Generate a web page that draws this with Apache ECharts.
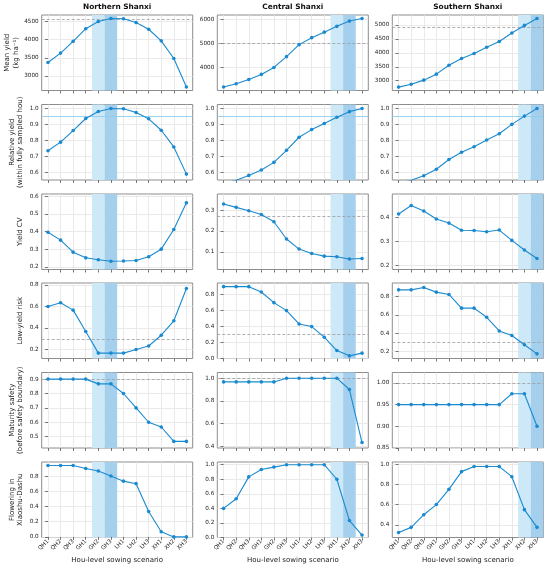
<!DOCTYPE html>
<html>
<head>
<meta charset="utf-8">
<script src="https://cdn.jsdelivr.net/npm/echarts@6.0.0/dist/echarts.min.js"></script>
<style>
html, body { margin: 0; padding: 0; background: #fff; }
#chart { width: 550px; height: 571px; }
</style>
</head>
<body>
<div id="chart"></div>
<script>
var hous = ['QH1', 'QH2', 'QH3', 'GH1', 'GH2', 'GH3', 'LH1', 'LH2', 'LH3', 'XH1', 'XH2', 'XH3'];
var regions = ['Northern Shanxi', 'Central Shanxi', 'Southern Shanxi'];
var rowNames = ['Mean yield\n(kg ha\u207b\u00b9)', 'Relative yield\n(within fully sampled hou)', 'Yield CV',
  'Low-yield risk', 'Maturity safety\n(before safety boundary)', 'Flowering in\nXiaoshu-Dashu'];

// mean yield
var northYield = [3370, 3630, 3955, 4305, 4505, 4590, 4580, 4475, 4290, 3970, 3480, 2690];
var centralYield = [3175, 3310, 3490, 3700, 3990, 4440, 4940, 5230, 5460, 5700, 5920, 6030];
var southYield = [2770, 2870, 3020, 3235, 3555, 3795, 3975, 4200, 4405, 4715, 4985, 5235];
// relative yield
var northRel = [0.734, 0.788, 0.861, 0.937, 0.981, 1.0, 0.998, 0.975, 0.935, 0.863, 0.758, 0.587];
var centralRel = [0.526, 0.549, 0.579, 0.613, 0.661, 0.737, 0.819, 0.867, 0.905, 0.945, 0.980, 1.0];
var southRel = [0.529, 0.548, 0.577, 0.618, 0.679, 0.725, 0.759, 0.802, 0.841, 0.900, 0.952, 1.0];
// yield CV
var northCV = [0.396, 0.351, 0.283, 0.251, 0.240, 0.232, 0.233, 0.236, 0.257, 0.300, 0.411, 0.562];
var centralCV = [0.329, 0.313, 0.297, 0.279, 0.244, 0.161, 0.113, 0.092, 0.079, 0.076, 0.065, 0.068];
var southCV = [0.413, 0.448, 0.425, 0.392, 0.375, 0.345, 0.344, 0.339, 0.346, 0.303, 0.263, 0.228];
// low-yield risk
var northRisk = [0.600, 0.634, 0.566, 0.367, 0.167, 0.167, 0.167, 0.200, 0.233, 0.333, 0.467, 0.767];
var centralRisk = [0.900, 0.900, 0.900, 0.833, 0.700, 0.600, 0.433, 0.400, 0.267, 0.100, 0.033, 0.067];
var southRisk = [0.875, 0.875, 0.900, 0.850, 0.825, 0.675, 0.675, 0.575, 0.425, 0.375, 0.275, 0.175];
// maturity safety
var northMat = [0.9, 0.9, 0.9, 0.9, 0.867, 0.867, 0.8, 0.7, 0.6, 0.567, 0.467, 0.467];
var centralMat = [0.967, 0.967, 0.967, 0.967, 0.967, 1.0, 1.0, 1.0, 1.0, 1.0, 0.9, 0.433];
var southMat = [0.95, 0.95, 0.95, 0.95, 0.95, 0.95, 0.95, 0.95, 0.95, 0.975, 0.975, 0.9];
// flowering in Xiaoshu-Dashu
var northFlower = [0.938, 0.938, 0.938, 0.9, 0.867, 0.8, 0.733, 0.7, 0.333, 0.067, 0, 0];
var centralFlower = [0.4, 0.533, 0.833, 0.933, 0.967, 1.0, 1.0, 1.0, 1.0, 0.8, 0.233, 0.033];
var southFlower = [0.325, 0.375, 0.5, 0.6, 0.75, 0.925, 0.975, 0.975, 0.975, 0.875, 0.55, 0.375];

// shaded windows (light = window, dark = best hou)
var bandLight = ['GH2', 'XH1', 'XH2'];
var bandDark = ['GH3', 'XH2', 'XH3'];

// reference lines
var yieldRef = [4560, 4990, 4915];
var relRef = [0.95, 0.95, 0.95];
var cvRef = [null, 0.265, null];
var riskRef = [0.3, 0.3, 0.3];
var matRef = [0.9, 1.0, 1.0];
var flowerRef = [null, null, null];

// tick labels
var yieldTicks = [[3000, 3500, 4000, 4500], [4000, 5000, 6000], [3000, 3500, 4000, 4500, 5000]];
var relTicks = [[0.6, 0.7, 0.8, 0.9, 1.0], [0.6, 0.7, 0.8, 0.9, 1.0], [0.6, 0.7, 0.8, 0.9, 1.0]];
var cvTicks = [[0.2, 0.3, 0.4, 0.5, 0.6], [0.1, 0.2, 0.3], [0.2, 0.3, 0.4]];
var riskTicks = [[0.2, 0.4, 0.6, 0.8], [0.0, 0.2, 0.4, 0.6, 0.8], [0.2, 0.4, 0.6, 0.8]];
var matTicks = [[0.5, 0.6, 0.7, 0.8, 0.9], [0.4, 0.6, 0.8, 1.0], [0.85, 0.90, 0.95, 1.00]];
var flowerTicks = [[0.0, 0.2, 0.4, 0.6, 0.8], [0.0, 0.2, 0.4, 0.6, 0.8, 1.0], [0.4, 0.6, 0.8, 1.0]];

var rows = [
  { series: [northYield, centralYield, southYield], ticks: yieldTicks, ref: yieldRef, dp: [0, 0, 0],
    lim: [[2595, 4685], [3031, 6173], [2648, 5359]] },
  { series: [northRel, centralRel, southRel], ticks: relTicks, ref: relRef, dp: [1, 1, 1], solidRef: true,
    lim: [[0.55, 1.025], [0.55, 1.025], [0.55, 1.025]] },
  { series: [northCV, centralCV, southCV], ticks: cvTicks, ref: cvRef, dp: [1, 1, 1],
    lim: [[0.185, 0.612], [0.015, 0.377], [0.182, 0.496]] },
  { series: [northRisk, centralRisk, southRisk], ticks: riskTicks, ref: riskRef, dp: [1, 1, 1],
    lim: [[0.117, 0.818], [0, 0.946], [0.124, 0.95]] },
  { series: [northMat, centralMat, southMat], ticks: matTicks, ref: matRef, dp: [1, 1, 2],
    lim: [[0.421, 0.946], [0.385, 1.05], [0.85, 1.024]] },
  { series: [northFlower, centralFlower, southFlower], ticks: flowerTicks, ref: flowerRef, dp: [1, 1, 1],
    lim: [[-0.008, 0.985], [0, 1.037], [0.275, 1.02]] }
];

var font = 'DejaVu Sans';
var lineColor = '#1a8ad0';
var colLeft = [41.7, 217.3, 392.3];
var colWidth = 151;
var rowTop = [15, 104.5, 194, 283, 372.5, 462];
var rowHeight = 75.5;
var nPanels = 18;

var grids = [], xAxes = [], yAxes = [], series = [], graphics = [];

rows.forEach(function (row, r) {
  for (var c = 0; c < 3; c++) {
    var k = r * 3 + c;
    grids.push({
      left: colLeft[c], top: rowTop[r], width: colWidth, height: rowHeight,
      show: true, borderColor: '#8c8c8c', borderWidth: 1, backgroundColor: '#fff',
      containLabel: false, outerBoundsMode: 'none'
    });
    var ticks = row.ticks[c];
    var dp = row.dp[c];
    xAxes[k] = {
      type: 'category', gridIndex: k, data: hous, boundaryGap: true,
      axisLine: { show: false },
      axisTick: { show: true, alignWithLabel: true, length: 3, lineStyle: { color: '#555', width: 0.8 } },
      axisLabel: { show: r === 5, rotate: 45, fontSize: 5.7, color: '#222', margin: 3, fontFamily: font, interval: 0 },
      splitLine: { show: true, alignWithLabel: true, interval: 0, lineStyle: { color: '#e4e4e4', width: 0.8 } },
      name: r === 5 ? 'Hou-level sowing scenario' : '',
      nameLocation: 'middle', nameGap: 19,
      nameTextStyle: { fontSize: 7, color: '#222', fontFamily: font }
    };
    xAxes[nPanels + k] = {
      type: 'value', gridIndex: k, min: -0.5, max: 11.5, show: false
    };
    yAxes.push({
      type: 'value', gridIndex: k, min: row.lim[c][0], max: row.lim[c][1],
      axisLine: { show: false },
      axisTick: { show: true, length: 3, customValues: ticks, lineStyle: { color: '#555', width: 0.8 } },
      axisLabel: {
        customValues: ticks, fontSize: 5.7, color: '#222', margin: 3, fontFamily: font,
        formatter: (function (d) { return function (v) { return Number(v).toFixed(d); }; })(dp)
      },
      splitLine: { show: true, lineStyle: { color: '#e4e4e4', width: 0.8 } },
      name: c === 0 ? rowNames[r] : '',
      nameLocation: 'middle', nameRotate: 90, nameGap: 17,
      nameTextStyle: { fontSize: 7, color: '#222', fontFamily: font, lineHeight: 8.5 }
    });

    var li = hous.indexOf(bandLight[c]);
    var di = hous.indexOf(bandDark[c]);
    series.push({
      type: 'line', xAxisIndex: nPanels + k, yAxisIndex: k, data: [], silent: true, z: 0,
      markArea: {
        silent: true, z: 0,
        data: [
          [{ xAxis: li - 0.5, itemStyle: { color: '#cde8f7' } }, { xAxis: li + 0.5 }],
          [{ xAxis: di - 0.5, itemStyle: { color: '#a4d0ed' } }, { xAxis: di + 0.5 }]
        ]
      }
    });

    var s = {
      type: 'line', xAxisIndex: k, yAxisIndex: k, data: row.series[c], z: 10,
      symbol: 'circle', symbolSize: 3.6, showSymbol: true,
      lineStyle: { color: lineColor, width: 1.1 },
      itemStyle: { color: lineColor }
    };
    if (row.ref[c] != null) {
      s.markLine = {
        silent: true, symbol: 'none', label: { show: false }, animation: false, z: 5,
        lineStyle: row.solidRef
          ? { type: 'solid', color: '#8ecbee', width: 0.9 }
          : { type: [3, 2], color: '#9a9a9a', width: 0.8 },
        data: [{ yAxis: row.ref[c] }]
      };
    }
    series.push(s);
  }
});

regions.forEach(function (name, c) {
  graphics.push({
    type: 'text', x: colLeft[c] + colWidth / 2, y: 4,
    style: { text: name, textAlign: 'center', textVerticalAlign: 'top', fill: '#111',
      font: 'bold 7.4px "DejaVu Sans"' }
  });
});

var chart = echarts.init(document.getElementById('chart'), null, { renderer: 'canvas' });
chart.setOption({
  animation: false,
  backgroundColor: '#fff',
  textStyle: { fontFamily: font },
  grid: grids,
  xAxis: xAxes,
  yAxis: yAxes,
  series: series,
  graphic: graphics
});
</script>
</body>
</html>
